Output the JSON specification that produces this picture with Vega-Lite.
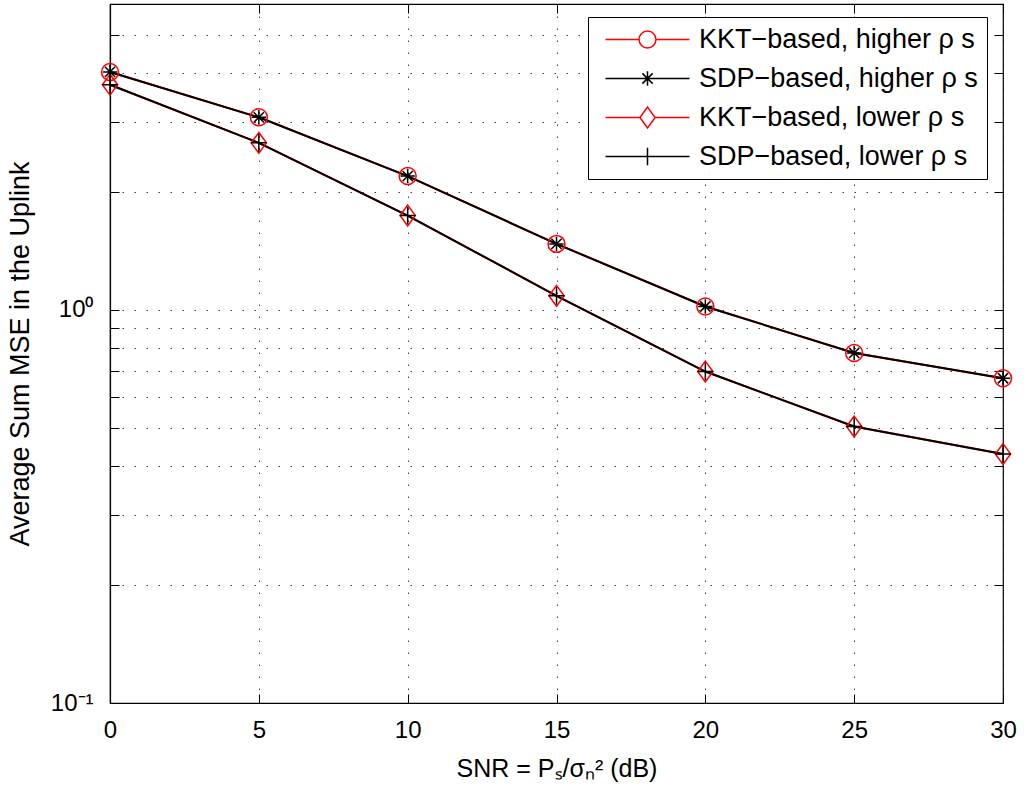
{
  "$schema": "https://vega.github.io/schema/vega-lite/v6.json",
  "width": 893,
  "height": 699,
  "autosize": {"type": "none"},
  "padding": {"left": 110, "top": 4, "right": 21, "bottom": 96},
  "background": "white",
  "config": {
    "font": "Liberation Sans",
    "view": {"stroke": "black", "strokeWidth": 1.2},
    "axis": {
      "domainColor": "black",
      "domainWidth": 1.2,
      "tickColor": "black",
      "tickWidth": 1,
      "tickSize": -9,
      "labelColor": "black",
      "titleColor": "black",
      "labelFontSize": 24,
      "titleFontSize": 25,
      "titleFontWeight": "normal",
      "gridColor": "black",
      "gridOpacity": 0.75,
      "gridWidth": 1,
      "gridDash": [1.5, 10.5],
      "labelFlush": false,
      "labelOverlap": false
    }
  },
  "data": {
    "values": [
      {"series": "KKT−based, higher ρ s", "method": "KKT", "snr": 0, "mse": 4.03},
      {"series": "KKT−based, higher ρ s", "method": "KKT", "snr": 5, "mse": 3.09},
      {"series": "KKT−based, higher ρ s", "method": "KKT", "snr": 10, "mse": 2.19},
      {"series": "KKT−based, higher ρ s", "method": "KKT", "snr": 15, "mse": 1.472},
      {"series": "KKT−based, higher ρ s", "method": "KKT", "snr": 20, "mse": 1.02},
      {"series": "KKT−based, higher ρ s", "method": "KKT", "snr": 25, "mse": 0.777},
      {"series": "KKT−based, higher ρ s", "method": "KKT", "snr": 30, "mse": 0.67},
      {"series": "SDP−based, higher ρ s", "method": "SDP", "snr": 0, "mse": 4.03},
      {"series": "SDP−based, higher ρ s", "method": "SDP", "snr": 5, "mse": 3.09},
      {"series": "SDP−based, higher ρ s", "method": "SDP", "snr": 10, "mse": 2.19},
      {"series": "SDP−based, higher ρ s", "method": "SDP", "snr": 15, "mse": 1.472},
      {"series": "SDP−based, higher ρ s", "method": "SDP", "snr": 20, "mse": 1.02},
      {"series": "SDP−based, higher ρ s", "method": "SDP", "snr": 25, "mse": 0.777},
      {"series": "SDP−based, higher ρ s", "method": "SDP", "snr": 30, "mse": 0.67},
      {"series": "KKT−based, lower ρ s", "method": "KKT", "snr": 0, "mse": 3.74},
      {"series": "KKT−based, lower ρ s", "method": "KKT", "snr": 5, "mse": 2.66},
      {"series": "KKT−based, lower ρ s", "method": "KKT", "snr": 10, "mse": 1.738},
      {"series": "KKT−based, lower ρ s", "method": "KKT", "snr": 15, "mse": 1.086},
      {"series": "KKT−based, lower ρ s", "method": "KKT", "snr": 20, "mse": 0.697},
      {"series": "KKT−based, lower ρ s", "method": "KKT", "snr": 25, "mse": 0.505},
      {"series": "KKT−based, lower ρ s", "method": "KKT", "snr": 30, "mse": 0.43},
      {"series": "SDP−based, lower ρ s", "method": "SDP", "snr": 0, "mse": 3.74},
      {"series": "SDP−based, lower ρ s", "method": "SDP", "snr": 5, "mse": 2.66},
      {"series": "SDP−based, lower ρ s", "method": "SDP", "snr": 10, "mse": 1.738},
      {"series": "SDP−based, lower ρ s", "method": "SDP", "snr": 15, "mse": 1.086},
      {"series": "SDP−based, lower ρ s", "method": "SDP", "snr": 20, "mse": 0.697},
      {"series": "SDP−based, lower ρ s", "method": "SDP", "snr": 25, "mse": 0.505},
      {"series": "SDP−based, lower ρ s", "method": "SDP", "snr": 30, "mse": 0.43}
    ]
  },
  "resolve": {
    "scale": {"shape": "independent", "color": "independent"},
    "axis": {"x": "independent", "y": "independent"}
  },
  "layer": [
    {
      "transform": [{"filter": "datum.method == 'KKT'"}],
      "mark": {"type": "line", "color": "#ff0000", "strokeWidth": 2},
      "encoding": {
        "x": {
          "field": "snr", "type": "quantitative",
          "scale": {"domain": [0, 30], "nice": false, "zero": false},
          "axis": {"orient": "bottom", "values": [0, 5, 10, 15, 20, 25, 30], "grid": true, "labelPadding": 24, "title": "SNR = Pₛ/σₙ² (dB)", "titlePadding": 14}
        },
        "y": {
          "field": "mse", "type": "quantitative",
          "scale": {"type": "log", "domain": [0.1, 6], "nice": false, "zero": false},
          "axis": {
            "orient": "left",
            "values": [0.1, 0.2, 0.3, 0.4, 0.5, 0.6, 0.7, 0.8, 0.9, 1, 2, 3, 4, 5, 6],
            "grid": true,
            "labelExpr": "datum.value == 1 ? '10⁰' : (datum.value == 0.1 ? '10⁻¹' : '')",
            "labelPadding": 26,
            "title": "Average Sum MSE in the Uplink",
            "titleFontSize": 27,
            "titlePadding": 16
          }
        },
        "detail": {"field": "series"}
      }
    },
    {
      "transform": [{"filter": "datum.method == 'SDP'"}],
      "mark": {"type": "line", "color": "#000000", "strokeWidth": 2},
      "encoding": {
        "x": {"field": "snr", "type": "quantitative",
          "axis": {"orient": "top", "values": [0, 5, 10, 15, 20, 25, 30], "labels": false, "title": null, "grid": false, "domain": false}},
        "y": {"field": "mse", "type": "quantitative",
          "axis": {"orient": "right", "values": [0.1, 0.2, 0.3, 0.4, 0.5, 0.6, 0.7, 0.8, 0.9, 1, 2, 3, 4, 5, 6], "labels": false, "title": null, "grid": false, "domain": false}},
        "detail": {"field": "series"}
      }
    },
    {
      "transform": [{"filter": "datum.method == 'KKT'"}],
      "mark": {"type": "point", "filled": false, "color": "#ff0000", "strokeWidth": 1.5, "size": 256, "opacity": 1},
      "encoding": {
        "x": {"field": "snr", "type": "quantitative", "axis": null},
        "y": {"field": "mse", "type": "quantitative", "axis": null},
        "shape": {
          "field": "series", "type": "nominal", "legend": null,
          "scale": {
            "domain": ["KKT−based, higher ρ s", "SDP−based, higher ρ s", "KKT−based, lower ρ s", "SDP−based, lower ρ s"],
            "range": [
              "M1.06,0A1.06,1.06,0,1,1,-1.06,0A1.06,1.06,0,1,1,1.06,0Z",
              "M-0.9,0L0.9,0M0,-0.9L0,0.9M-0.64,-0.64L0.64,0.64M-0.64,0.64L0.64,-0.64",
              "M0,-1.3L0.95,0L0,1.3L-0.95,0Z",
              "M-1,0L1,0M0,-1.1L0,1.1"
            ]
          }
        }
      }
    },
    {
      "transform": [{"filter": "datum.method == 'SDP'"}],
      "mark": {"type": "point", "filled": false, "color": "#000000", "strokeWidth": 1.5, "size": 256, "opacity": 1},
      "encoding": {
        "x": {"field": "snr", "type": "quantitative", "axis": null},
        "y": {"field": "mse", "type": "quantitative", "axis": null},
        "shape": {
          "field": "series", "type": "nominal", "legend": null,
          "scale": {
            "domain": ["KKT−based, higher ρ s", "SDP−based, higher ρ s", "KKT−based, lower ρ s", "SDP−based, lower ρ s"],
            "range": [
              "M1.06,0A1.06,1.06,0,1,1,-1.06,0A1.06,1.06,0,1,1,1.06,0Z",
              "M-0.9,0L0.9,0M0,-0.9L0,0.9M-0.64,-0.64L0.64,0.64M-0.64,0.64L0.64,-0.64",
              "M0,-1.3L0.95,0L0,1.3L-0.95,0Z",
              "M-1,0L1,0M0,-1.1L0,1.1"
            ]
          }
        }
      }
    },
    {
      "mark": {"type": "point", "filled": false, "strokeWidth": 1.5, "size": 256, "opacity": 0},
      "encoding": {
        "x": {"field": "snr", "type": "quantitative", "axis": null},
        "y": {"field": "mse", "type": "quantitative", "axis": null},
        "color": {
          "field": "series", "type": "nominal",
          "scale": {
            "domain": ["KKT−based, higher ρ s", "SDP−based, higher ρ s", "KKT−based, lower ρ s", "SDP−based, lower ρ s"],
            "range": ["#ff0000", "#000000", "#ff0000", "#000000"]
          },
          "legend": {
            "title": null,
            "orient": "none",
            "legendX": 478,
            "legendY": 13,
            "padding": 9,
            "fillColor": "white",
            "strokeColor": "black",
            "symbolSize": 256,
            "symbolStrokeWidth": 1.5,
            "symbolOffset": 37,
            "labelOffset": 38,
            "labelFontSize": 27,
            "labelColor": "black",
            "labelLimit": 400,
            "rowPadding": 11
          }
        },
        "shape": {
          "field": "series", "type": "nominal",
          "scale": {
            "domain": ["KKT−based, higher ρ s", "SDP−based, higher ρ s", "KKT−based, lower ρ s", "SDP−based, lower ρ s"],
            "range": [
              "M-5.25,0L-1.06,0M1.06,0L5.25,0M1.06,0A1.06,1.06,0,1,1,-1.06,0A1.06,1.06,0,1,1,1.06,0Z",
              "M-5.25,0L5.25,0M0,-0.9L0,0.9M-0.64,-0.64L0.64,0.64M-0.64,0.64L0.64,-0.64",
              "M-5.25,0L-0.95,0M0.95,0L5.25,0M0,-1.3L0.95,0L0,1.3L-0.95,0Z",
              "M-5.25,0L5.25,0M0,-1.1L0,1.1"
            ]
          },
          "legend": {
            "title": null,
            "orient": "none",
            "legendX": 478,
            "legendY": 13,
            "padding": 9,
            "fillColor": "white",
            "strokeColor": "black",
            "symbolSize": 256,
            "symbolStrokeWidth": 1.5,
            "symbolOffset": 37,
            "labelOffset": 38,
            "labelFontSize": 27,
            "labelColor": "black",
            "labelLimit": 400,
            "rowPadding": 11
          }
        }
      }
    }
  ]
}
